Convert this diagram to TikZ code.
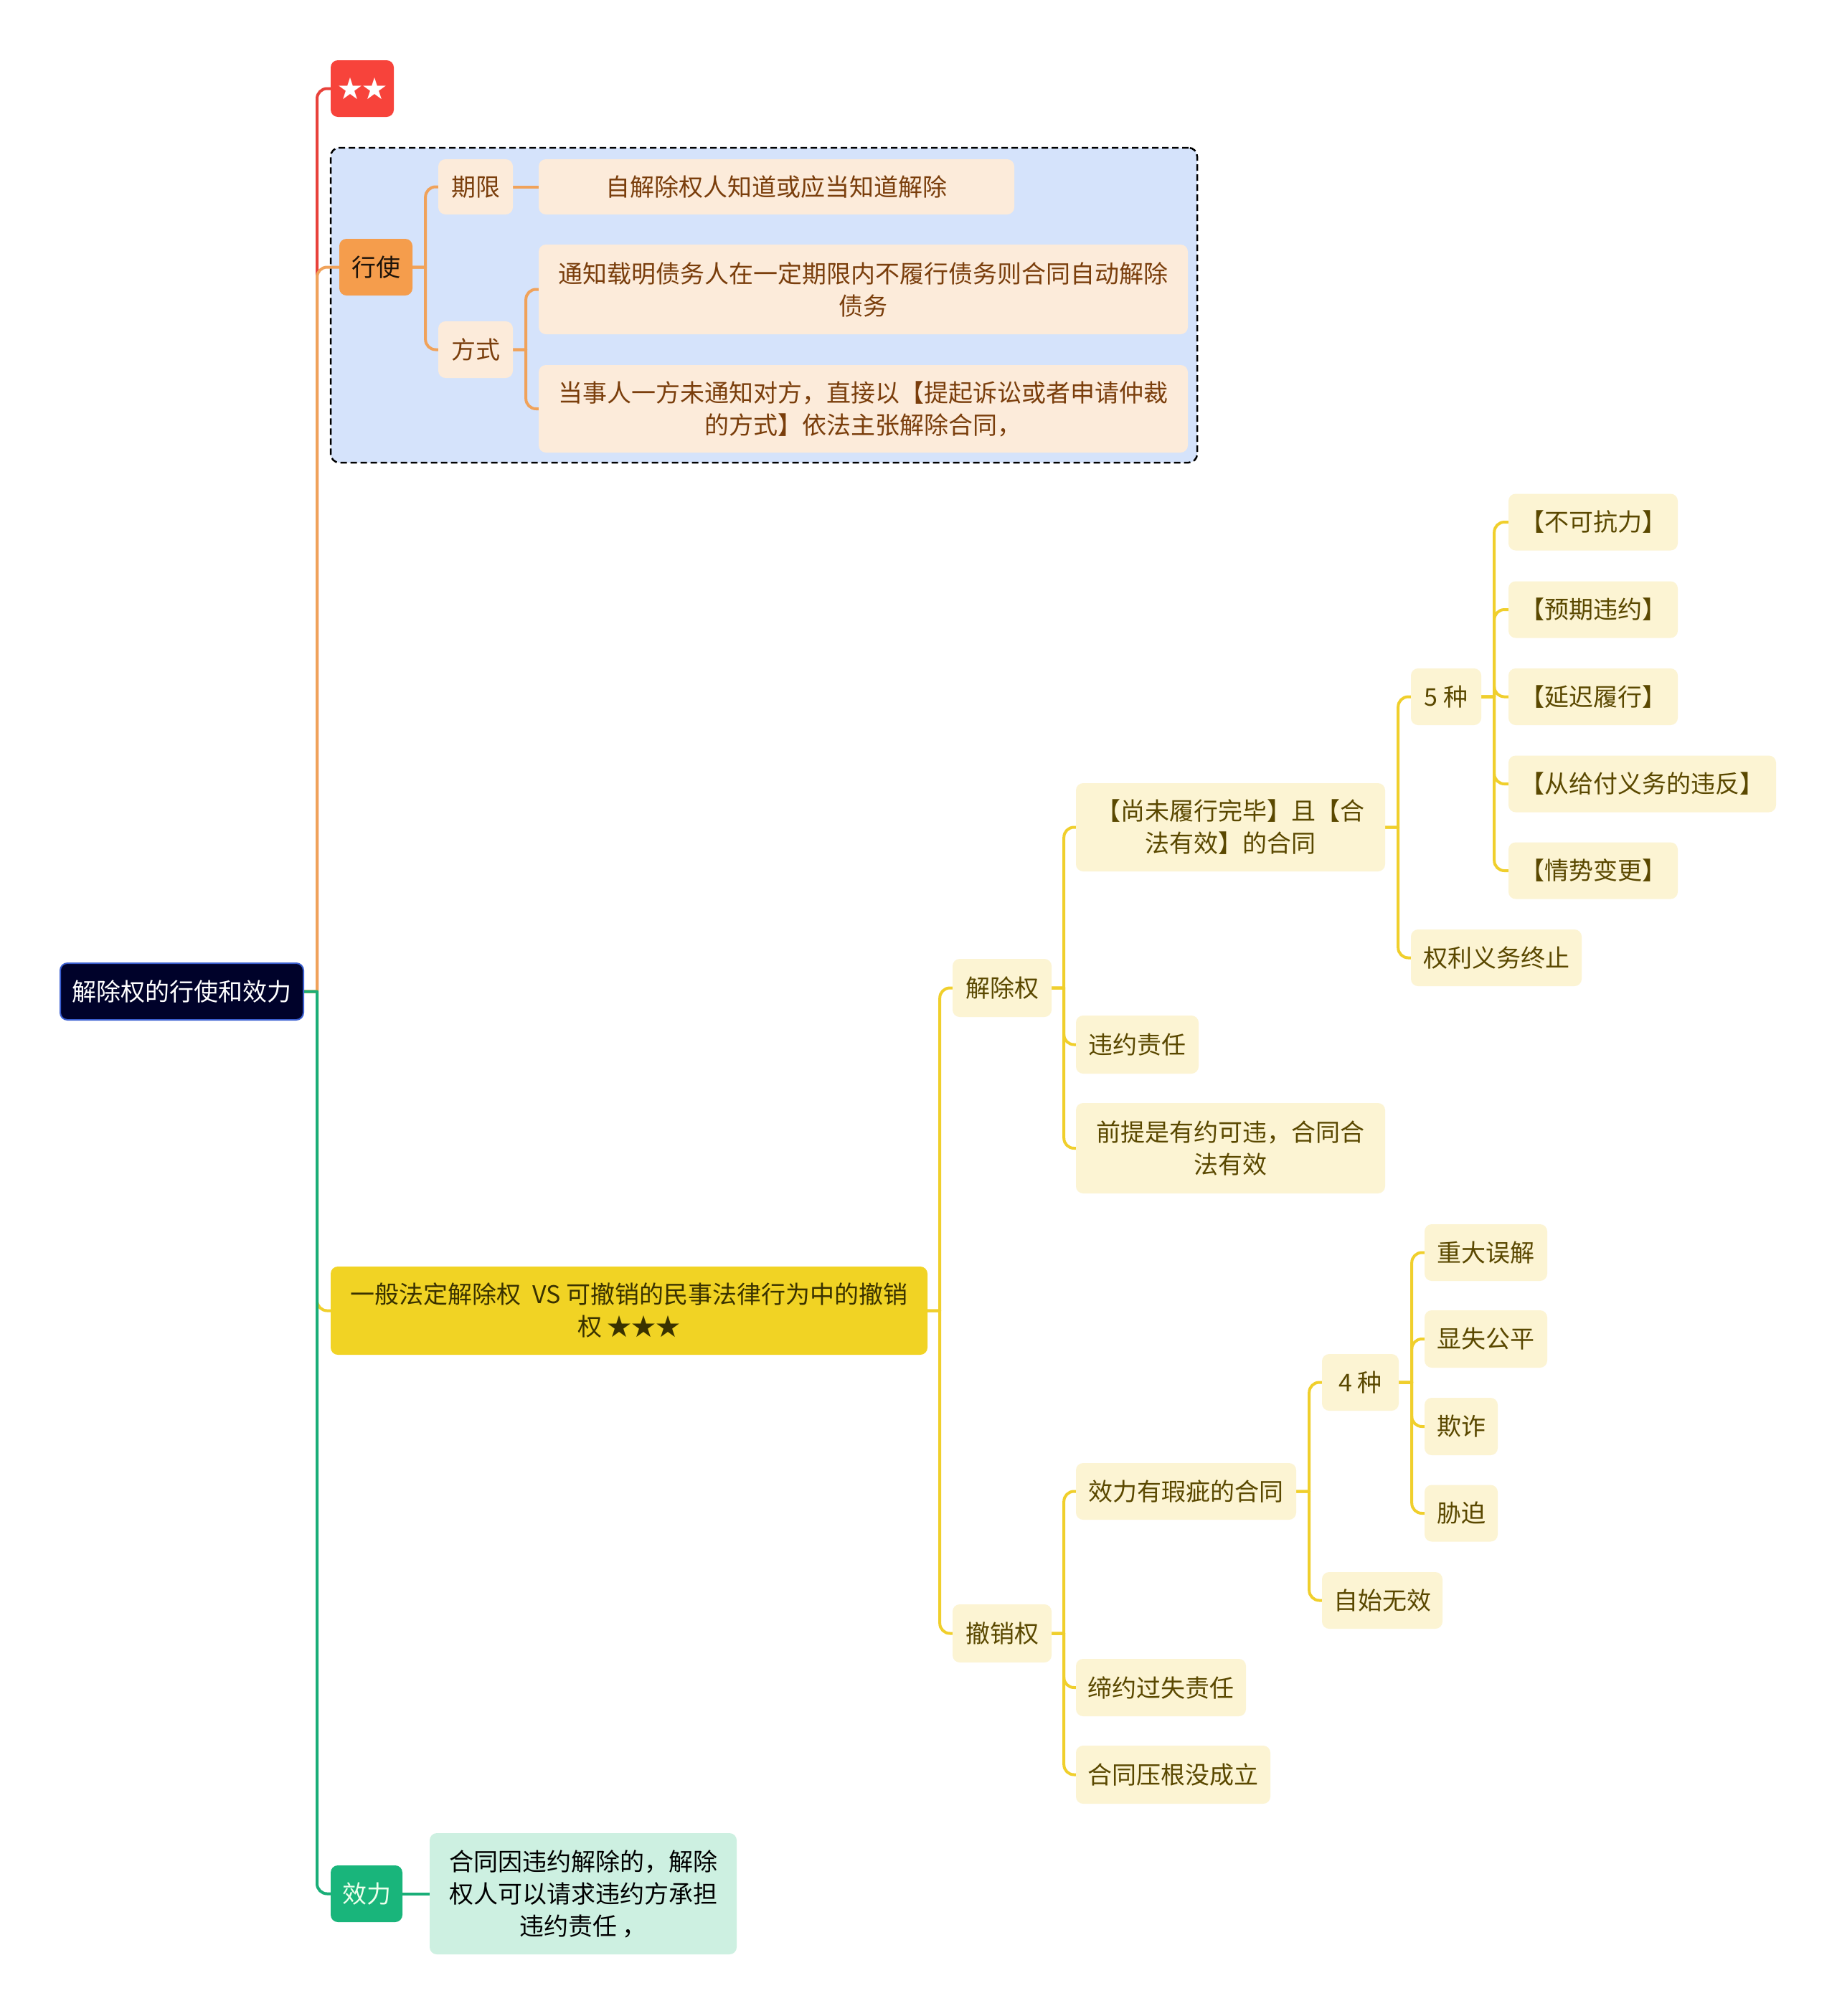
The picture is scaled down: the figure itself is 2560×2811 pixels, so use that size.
\documentclass[tikz,border=0pt]{standalone}
\usepackage{fontspec}
\setmainfont{Noto Sans CJK SC}
\newfontfamily\cjk{Noto Sans CJK SC}
\definecolor{rootfill}{HTML}{00022A}
\definecolor{rootdraw}{HTML}{3B5FD0}
\definecolor{redc}{HTML}{F7433B}
\definecolor{redl}{HTML}{E8413A}
\definecolor{orfill}{HTML}{F59D4C}
\definecolor{orl}{HTML}{F0A25A}
\definecolor{peach}{HTML}{FCEBDA}
\definecolor{peachtxt}{HTML}{7A3E0C}
\definecolor{grpfill}{HTML}{D5E3FB}
\definecolor{yefill}{HTML}{F1D324}
\definecolor{yel}{HTML}{F0CF2C}
\definecolor{yeleaf}{HTML}{FCF4D3}
\definecolor{yetxt}{HTML}{5A4800}
\definecolor{yebigtxt}{HTML}{3A3200}
\definecolor{grfill}{HTML}{19B57B}
\definecolor{grl}{HTML}{1AAE78}
\definecolor{grleaf}{HTML}{CDF0E1}
\pgfdeclarelayer{grp}
\pgfdeclarelayer{links}
\pgfsetlayers{grp,links,main}
\tikzset{
  base/.style={rectangle, rounded corners=10pt, inner sep=0pt, align=center,
    font={\cjk\fontsize{34pt}{45pt}\selectfont}},
  rootbox/.style={base, fill=rootfill, draw=rootdraw, line width=2pt, text=white},
  starbox/.style={base, fill=redc, text=white},
  grpbox/.style={rectangle, rounded corners=12pt, fill=grpfill, draw=black, line width=2.5pt, dash pattern=on 9pt off 5pt},
  orbox/.style={base, fill=orfill, text=black!85!brown},
  pebox/.style={base, fill=peach, text=peachtxt},
  yebig/.style={base, fill=yefill, text=yebigtxt},
  yebox/.style={base, fill=yeleaf, text=yetxt},
  grbox/.style={base, fill=grfill, text=white!92!green},
  grleafbox/.style={base, fill=grleaf, text=black},
  conn/.style={line width=4pt, rounded corners=14pt, line cap=round},
  redconn/.style={conn, draw=redl},
  orconn/.style={conn, draw=orl},
  yeconn/.style={conn, draw=yel},
  grconn/.style={conn, draw=grl},
}
% #1 style, #2 parent, #3 child, #4 stub length
\newcommand\branchto[4]{\draw[#1] (#2.east) -- ++(#4,0) (#2.east) ++(#4,0) |- (#3.west);}
\begin{document}
\begin{tikzpicture}[x=1pt,y=-1pt]
\useasboundingbox (0,0) rectangle (2560,2811);
\begin{pgfonlayer}{grp}
\fill[white] (0,0) rectangle (2560,2811);
\node[grpbox, minimum width=1208, minimum height=439] (grp) at (1065,425.5) {};
\end{pgfonlayer}

% nodes
\node[rootbox, minimum width=339, minimum height=79] (root) at (253.5,1382.5) {解除权的行使和效力};
\node[starbox, minimum width=88, minimum height=79] (star) at (505,123.5) {★★};

\node[orbox, minimum width=102, minimum height=79] (xs) at (524,372.5) {行使};
\node[pebox, minimum width=104, minimum height=77] (qx) at (663,260.5) {期限};
\node[pebox, minimum width=663, minimum height=77] (qxa) at (1082.5,260.5) {自解除权人知道或应当知道解除};
\node[pebox, minimum width=104, minimum height=79] (fs) at (663,487.5) {方式};
\node[pebox, minimum width=905, minimum height=125] (fsa) at (1203.5,403.5) {通知载明债务人在一定期限内不履行债务则合同自动解除\\债务};
\node[pebox, minimum width=905, minimum height=122] (fsb) at (1203.5,570) {当事人一方未通知对方，直接以【提起诉讼或者申请仲裁\\的方式】依法主张解除合同，};

\node[yebig, minimum width=832, minimum height=123] (big) at (877,1827.5) {一般法定解除权\ \ VS 可撤销的民事法律行为中的撤销\\权 ★★★};

\node[yebox, minimum width=138, minimum height=81] (jcq) at (1397,1377.5) {解除权};
\node[yebox, minimum width=431, minimum height=123] (wlx) at (1715.5,1153.5) {【尚未履行完毕】且【合\\法有效】的合同};
\node[yebox, minimum width=98, minimum height=79] (wz) at (2016,971.5) {5 种};
\node[yebox, minimum width=236, minimum height=79] (w1) at (2221,728) {【不可抗力】};
\node[yebox, minimum width=236, minimum height=79] (w2) at (2221,850) {【预期违约】};
\node[yebox, minimum width=236, minimum height=79] (w3) at (2221,971.5) {【延迟履行】};
\node[yebox, minimum width=373, minimum height=79] (w4) at (2289.5,1093) {【从给付义务的违反】};
\node[yebox, minimum width=236, minimum height=79] (w5) at (2221,1214) {【情势变更】};
\node[yebox, minimum width=238, minimum height=79] (qlyw) at (2086,1335.5) {权利义务终止};
\node[yebox, minimum width=171, minimum height=81] (wyzr) at (1585.5,1456.5) {违约责任};
\node[yebox, minimum width=431, minimum height=126] (qt) at (1715.5,1601) {前提是有约可违，合同合\\法有效};

\node[yebox, minimum width=138, minimum height=81] (cxq) at (1397,2277.5) {撤销权};
\node[yebox, minimum width=307, minimum height=79] (xc) at (1653.5,2079.5) {效力有瑕疵的合同};
\node[yebox, minimum width=107, minimum height=79] (sz) at (1896.5,1927.5) {4 种};
\node[yebox, minimum width=171, minimum height=79] (s1) at (2071.5,1746.5) {重大误解};
\node[yebox, minimum width=171, minimum height=80] (s2) at (2071.5,1867) {显失公平};
\node[yebox, minimum width=102, minimum height=80] (s3) at (2037,1989) {欺诈};
\node[yebox, minimum width=102, minimum height=79] (s4) at (2037,2110) {胁迫};
\node[yebox, minimum width=168, minimum height=79] (zswx) at (1927,2231.5) {自始无效};
\node[yebox, minimum width=237, minimum height=80] (dy) at (1618.5,2353) {缔约过失责任};
\node[yebox, minimum width=271, minimum height=81] (ht) at (1635.5,2474.5) {合同压根没成立};

\node[grbox, minimum width=100, minimum height=79] (xl) at (511,2640.5) {效力};
\node[grleafbox, minimum width=428, minimum height=169] (xla) at (813,2640.5) {合同因违约解除的，解除\\权人可以请求违约方承担\\违约责任 ，};

\begin{pgfonlayer}{links}
% connectors from root
\branchto{redconn}{root}{star}{18}
\branchto{orconn}{root}{xs}{18}
\branchto{yeconn}{root}{big}{18}
\branchto{grconn}{root}{xl}{18}

% 行使 subtree
\branchto{orconn}{xs}{qx}{18}
\branchto{orconn}{xs}{fs}{18}
\draw[orconn] (qx.east) -- (qxa.west);
\branchto{orconn}{fs}{fsa}{18}
\branchto{orconn}{fs}{fsb}{18}

% yellow subtree
\branchto{yeconn}{big}{jcq}{17}
\branchto{yeconn}{big}{cxq}{17}
\branchto{yeconn}{jcq}{wlx}{17}
\branchto{yeconn}{jcq}{wyzr}{17}
\branchto{yeconn}{jcq}{qt}{17}
\branchto{yeconn}{wlx}{wz}{18}
\branchto{yeconn}{wlx}{qlyw}{18}
\foreach \t in {w1,w2,w3,w4,w5}
  {\branchto{yeconn}{wz}{\t}{18}}
\branchto{yeconn}{cxq}{xc}{17}
\branchto{yeconn}{cxq}{dy}{17}
\branchto{yeconn}{cxq}{ht}{17}
\branchto{yeconn}{xc}{sz}{18}
\branchto{yeconn}{xc}{zswx}{18}
\foreach \t in {s1,s2,s3,s4}
  {\branchto{yeconn}{sz}{\t}{18}}

% green
\draw[grconn] (xl.east) -- (xla.west);
\end{pgfonlayer}
\end{tikzpicture}
\end{document}
